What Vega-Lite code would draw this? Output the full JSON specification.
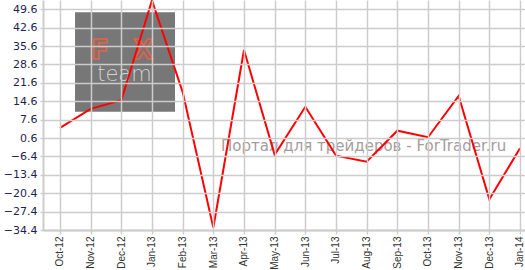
{
  "$schema": "https://vega.github.io/schema/vega-lite/v6.json",
  "width": 482,
  "height": 230,
  "autosize": {"type": "none"},
  "padding": {"left": 43, "top": 0, "right": 0, "bottom": 40},
  "background": "white",
  "config": {
    "view": {"stroke": null}
  },
  "layer": [
    {
      "layer": [
        {
          "data": {"values": [{"x1": 0.49, "x2": 3.75, "y1": 48.46, "y2": 10.64}]},
          "mark": {"type": "rect", "color": "#777777"},
          "encoding": {
            "x": {"field": "x1", "type": "quantitative", "scale": {"domain": [-0.5543, 15.163], "nice": false, "zero": false}, "axis": null},
            "x2": {"field": "x2"},
            "y": {"field": "y1", "type": "quantitative", "title": null, "scale": {"domain": [-34.4, 53.14], "nice": false, "zero": false}},
            "y2": {"field": "y2"}
          }
        },
        {
          "data": {"values": [{"x": 1.3, "y": 33.7, "label": "F"}, {"x": 2.71, "y": 33.7, "label": "X"}]},
          "mark": {"type": "text", "font": "DejaVu Sans", "fontSize": 26, "fontWeight": "bold", "fill": "#86706b", "stroke": "#e0644a", "strokeWidth": 1.5, "align": "center", "baseline": "middle"},
          "encoding": {
            "x": {"field": "x", "type": "quantitative", "scale": {"domain": [-0.5543, 15.163], "nice": false, "zero": false}, "axis": null},
            "y": {"field": "y", "type": "quantitative", "title": null, "scale": {"domain": [-34.4, 53.14], "nice": false, "zero": false}},
            "text": {"field": "label"}
          }
        },
        {
          "data": {"values": [{"x": 2.1, "y": 24.6, "label": "team"}]},
          "mark": {"type": "text", "font": "DejaVu Sans", "fontSize": 21, "fontWeight": 200, "color": "#d4d4d4", "align": "center", "baseline": "middle"},
          "encoding": {
            "x": {"field": "x", "type": "quantitative", "scale": {"domain": [-0.5543, 15.163], "nice": false, "zero": false}, "axis": null},
            "y": {"field": "y", "type": "quantitative", "title": null, "scale": {"domain": [-34.4, 53.14], "nice": false, "zero": false}},
            "text": {"field": "label"}
          }
        },
        {
          "data": {"values": [{"x": 9.9, "y": -4.3, "label": "Портал для трейдеров - ForTrader.ru"}]},
          "mark": {"type": "text", "font": "DejaVu Sans", "fontSize": 15, "color": "#a59c9c", "align": "center", "baseline": "alphabetic"},
          "encoding": {
            "x": {"field": "x", "type": "quantitative", "scale": {"domain": [-0.5543, 15.163], "nice": false, "zero": false}, "axis": null},
            "y": {"field": "y", "type": "quantitative", "title": null, "scale": {"domain": [-34.4, 53.14], "nice": false, "zero": false}},
            "text": {"field": "label"}
          }
        }
      ]
    },
    {
      "data": {
        "values": [
          {"month": "Oct-12", "value": 4.5},
          {"month": "Nov-12", "value": 11.7},
          {"month": "Dec-12", "value": 15.0},
          {"month": "Jan-13", "value": 53.0},
          {"month": "Feb-13", "value": 18.1},
          {"month": "Mar-13", "value": -33.5},
          {"month": "Apr-13", "value": 34.1},
          {"month": "May-13", "value": -5.8},
          {"month": "Jun-13", "value": 12.5},
          {"month": "Jul-13", "value": -6.1},
          {"month": "Aug-13", "value": -8.4},
          {"month": "Sep-13", "value": 3.4},
          {"month": "Oct-13", "value": 0.9},
          {"month": "Nov-13", "value": 16.6},
          {"month": "Dec-13", "value": -22.7},
          {"month": "Jan-14", "value": -3.3}
        ]
      },
      "mark": {"type": "line", "color": "#ff0000", "strokeWidth": 2},
      "encoding": {
        "x": {
          "field": "month",
          "type": "ordinal",
          "sort": null,
          "title": null,
          "scale": {"type": "point", "padding": 0.3587, "align": 0.7727},
          "axis": {
            "grid": true,
            "gridColor": "#cccccc",
            "gridWidth": 1.5,
            "domainColor": "#cccccc",
            "domainWidth": 2,
            "tickColor": "#cccccc",
            "tickWidth": 1.5,
            "zindex": 1,
            "labelAngle": -90,
            "labelFont": "Liberation Sans",
            "labelFontSize": 10,
            "labelColor": "#333333",
            "labelPadding": 2,
            "labelOverlap": false,
            "tickSize": 4
          }
        },
        "y": {
          "field": "value",
          "type": "quantitative",
          "title": null,
          "scale": {"domain": [-34.4, 53.14], "nice": false, "zero": false},
          "axis": {
            "values": [-34.4, -27.4, -20.4, -13.4, -6.4, 0.6, 7.6, 14.6, 21.6, 28.6, 35.6, 42.6, 49.6],
            "tickCount": 20,
            "format": ".1f",
            "grid": true,
            "gridColor": "#cccccc",
            "gridWidth": 1.5,
            "domainColor": "#cccccc",
            "domainWidth": 2,
            "tickColor": "#cccccc",
            "tickWidth": 1.5,
            "zindex": 1,
            "labelFont": "DejaVu Sans",
            "labelFontSize": 11,
            "labelColor": "#1f1f4f",
            "labelPadding": 3,
            "labelOverlap": false,
            "tickSize": 3
          }
        }
      }
    }
  ],
  "resolve": {"scale": {"x": "independent"}, "axis": {"x": "independent"}}
}
